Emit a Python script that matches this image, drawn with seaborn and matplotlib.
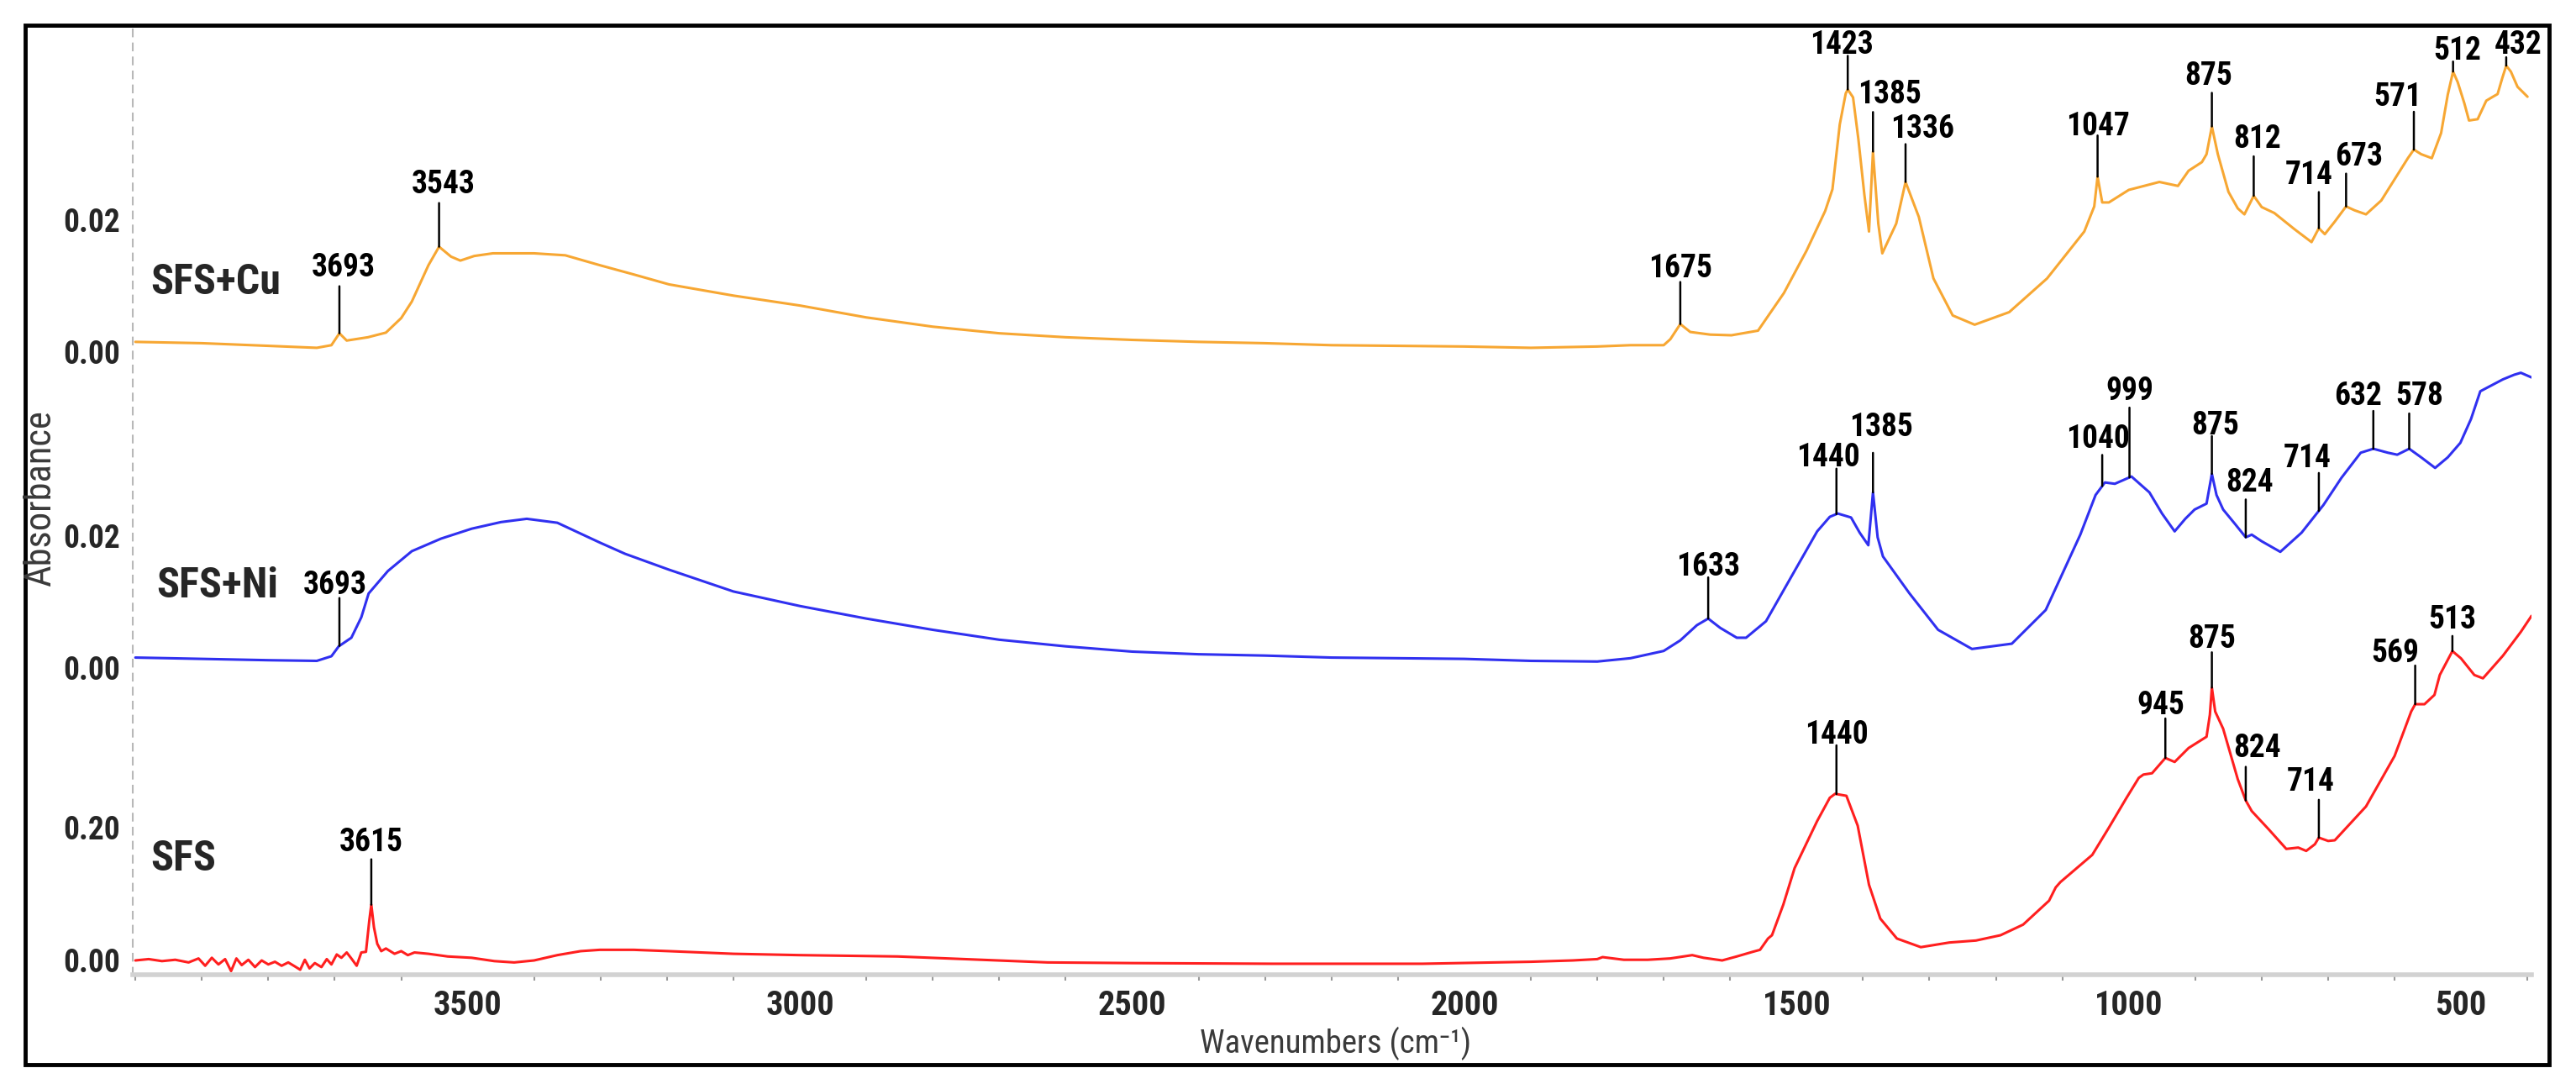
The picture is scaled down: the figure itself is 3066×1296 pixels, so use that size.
import numpy as np
import pandas as pd
import matplotlib
matplotlib.use("Agg")
import matplotlib.pyplot as plt
import seaborn as sns
from matplotlib import font_manager
from matplotlib.patches import Rectangle
from matplotlib.ticker import FixedLocator, MultipleLocator

# ---------------- data ----------------
cu_wn = [4000, 3900, 3800, 3727, 3705, 3693, 3682, 3650, 3623, 3600, 3584, 3559, 3543, 3525, 3511,
         3490, 3462, 3400, 3353, 3301, 3250, 3197, 3100, 3000, 2900, 2800, 2700, 2600, 2500, 2400,
         2300, 2200, 2100, 2000, 1900, 1800, 1750, 1700, 1690, 1675, 1660, 1630, 1598, 1558, 1519,
         1485, 1457, 1446, 1435, 1426, 1423, 1415, 1407, 1398, 1391, 1385, 1377, 1371, 1350, 1336,
         1316, 1294, 1265, 1232, 1180, 1123, 1067, 1052, 1047, 1040, 1030, 1000, 954, 926, 910, 890,
         883, 875, 866, 850, 836, 826, 812, 800, 781, 750, 725, 714, 705, 690, 673, 660, 643, 620,
         600, 580, 571, 560, 544, 530, 520, 512, 505, 495, 488, 475, 462, 452, 445, 438, 432, 425,
         415, 400]
cu_abs = [0.0015, 0.0013, 0.0009, 0.0006, 0.0010, 0.0028, 0.0017, 0.0022, 0.0029, 0.0051, 0.0076,
          0.0131, 0.0159, 0.0144, 0.0138, 0.0145, 0.0149, 0.0149, 0.0146, 0.0131, 0.0117, 0.0102,
          0.0085, 0.0070, 0.0052, 0.0038, 0.0028, 0.0022, 0.0018, 0.0015, 0.0013, 0.0010, 0.0009,
          0.0008, 0.0006, 0.0008, 0.0010, 0.0010, 0.0019, 0.0042, 0.0030, 0.0026, 0.0025, 0.0032,
          0.0089, 0.0153, 0.0213, 0.0246, 0.0344, 0.0391, 0.0397, 0.0385, 0.0322, 0.0238, 0.0182,
          0.0303, 0.0194, 0.0149, 0.0194, 0.0257, 0.0204, 0.0111, 0.0055, 0.0041, 0.0060, 0.0111,
          0.0182, 0.0220, 0.0265, 0.0226, 0.0226, 0.0245, 0.0257, 0.0251, 0.0274, 0.0287, 0.0299,
          0.0341, 0.0299, 0.0242, 0.0217, 0.0208, 0.0236, 0.0219, 0.0210, 0.0185, 0.0166, 0.0187,
          0.0178, 0.0197, 0.0220, 0.0214, 0.0208, 0.0229, 0.0261, 0.0293, 0.0306, 0.0299, 0.0293,
          0.0331, 0.0389, 0.0424, 0.0408, 0.0376, 0.0350, 0.0352, 0.0380, 0.0386, 0.0390, 0.0414,
          0.0433, 0.0424, 0.0401, 0.0386]

ni_wn = [4000, 3900, 3800, 3727, 3705, 3694, 3675, 3660, 3649, 3620, 3584, 3540, 3494, 3450, 3411,
         3365, 3301, 3263, 3197, 3100, 3000, 2900, 2800, 2700, 2600, 2500, 2400, 2300, 2200, 2100,
         2000, 1900, 1800, 1750, 1700, 1675, 1650, 1633, 1615, 1590, 1576, 1546, 1503, 1469, 1450,
         1438, 1418, 1405, 1392, 1385, 1378, 1370, 1330, 1287, 1236, 1176, 1125, 1073, 1050, 1036,
         1021, 996, 969, 950, 931, 915, 901, 883, 875, 868, 858, 840, 824, 815, 800, 772, 740, 707,
         680, 651, 632, 610, 596, 578, 560, 539, 520, 501, 485, 471, 437, 420, 410, 394]
ni_abs = [0.0015, 0.0013, 0.0011, 0.0010, 0.0017, 0.0032, 0.0045, 0.0076, 0.0112, 0.0146, 0.0176,
          0.0195, 0.0210, 0.0220, 0.0225, 0.0219, 0.0189, 0.0172, 0.0148, 0.0115, 0.0093, 0.0074,
          0.0057, 0.0042, 0.0032, 0.0024, 0.0020, 0.0018, 0.0015, 0.0014, 0.0013, 0.0010, 0.0009,
          0.0014, 0.0025, 0.0041, 0.0064, 0.0074, 0.0060, 0.0045, 0.0045, 0.0070, 0.0146, 0.0206,
          0.0228, 0.0233, 0.0227, 0.0204, 0.0185, 0.0265, 0.0197, 0.0168, 0.0112, 0.0057, 0.0028,
          0.0036, 0.0087, 0.0201, 0.0261, 0.0280, 0.0278, 0.0289, 0.0265, 0.0233, 0.0206, 0.0225,
          0.0239, 0.0248, 0.0293, 0.0261, 0.0239, 0.0217, 0.0197, 0.0201, 0.0191, 0.0175, 0.0204,
          0.0246, 0.0287, 0.0325, 0.0331, 0.0325, 0.0322, 0.0331, 0.0318, 0.0302, 0.0318, 0.0340,
          0.0376, 0.0418, 0.0436, 0.0443, 0.0446, 0.0439]

sfs_wn = [4000, 3980, 3960, 3940, 3920, 3905, 3895, 3885, 3875, 3865, 3856, 3848, 3840, 3830, 3820,
          3810, 3800, 3790, 3780, 3770, 3760, 3752, 3745, 3738, 3730, 3720, 3712, 3705, 3697, 3690,
          3682, 3675, 3667, 3660, 3653, 3648, 3645, 3641, 3636, 3630, 3623, 3610, 3600, 3590, 3580,
          3559, 3530, 3494, 3460, 3430, 3400, 3365, 3330, 3301, 3250, 3197, 3100, 3000, 2853, 2700,
          2627, 2500, 2289, 2063, 1900, 1837, 1800, 1792, 1760, 1724, 1690, 1657, 1640, 1612, 1590,
          1566, 1555, 1543, 1537, 1520, 1503, 1469, 1450, 1442, 1425, 1408, 1391, 1374, 1349, 1313,
          1270, 1230, 1193, 1159, 1120, 1110, 1103, 1055, 1030, 1004, 985, 978, 965, 945, 931, 910,
          883, 878, 875, 870, 858, 836, 824, 815, 789, 763, 745, 733, 720, 714, 700, 690, 643, 600,
          575, 569, 555, 540, 532, 513, 500, 480, 467, 437, 410, 394]
sfs_abs = [0.000, 0.002, -0.001, 0.001, -0.003, 0.003, -0.008, 0.004, -0.006, 0.002, -0.016, 0.003,
           -0.007, 0.001, -0.010, 0.000, -0.006, -0.002, -0.008, -0.003, -0.009, -0.014, 0.001,
           -0.012, -0.004, -0.010, 0.002, -0.006, 0.009, 0.004, 0.012, 0.003, -0.008, 0.012, 0.013,
           0.060, 0.084, 0.050, 0.025, 0.014, 0.018, 0.010, 0.014, 0.008, 0.012, 0.010, 0.006, 0.004,
           -0.001, -0.003, 0.000, 0.008, 0.014, 0.016, 0.016, 0.014, 0.010, 0.008, 0.006, 0.000,
           -0.003, -0.004, -0.005, -0.005, -0.002, 0.000, 0.002, 0.005, 0.001, 0.001, 0.003, 0.008,
           0.004, 0.000, 0.006, 0.013, 0.016, 0.033, 0.038, 0.084, 0.139, 0.210, 0.245, 0.251, 0.248,
           0.203, 0.114, 0.063, 0.033, 0.020, 0.027, 0.030, 0.038, 0.054, 0.090, 0.110, 0.118, 0.159,
           0.200, 0.244, 0.275, 0.280, 0.282, 0.305, 0.299, 0.320, 0.337, 0.370, 0.411, 0.375, 0.349,
           0.273, 0.241, 0.225, 0.197, 0.168, 0.170, 0.165, 0.175, 0.185, 0.180, 0.181, 0.232, 0.308,
           0.375, 0.386, 0.386, 0.400, 0.430, 0.466, 0.455, 0.430, 0.425, 0.459, 0.495, 0.519]

cu_peaks = [3693, 3543, 1675, 1423, 1385, 1336, 1047, 875, 812, 714, 673, 571, 512, 432]
cu_labels = [str(p) for p in cu_peaks]
ni_peaks = [3693, 1633, 1440, 1385, 1040, 999, 875, 824, 714, 632, 578]
ni_labels = [str(p) for p in ni_peaks]
sfs_peaks = [3645, 1440, 945, 875, 824, 714, 569, 513]
sfs_labels = ["3615", "1440", "945", "875", "824", "714", "569", "513"]

# label layout: (line length px, text centre above line top px, text x shift px)
cu_layout = [(56, 25, 5), (52, 25, 5), (50, 19, 0), (40, 15, -7), (47, 23, 20), (45, 21, 20),
             (49, 13, 0), (40, 22, -4), (47, 23, 4), (43, 23, -12), (39, 23, 15), (45, 20, -19),
             (12, 15, 5), (10, 17, 14)]
ni_layout = [(57, 18, -5), (49, 15, 0), (54, 16, -10), (47, 33, 10), (37, 21, -5), (83, 22, 0),
             (45, 15, 4), (45, 22, 5), (45, 20, -14), (45, 20, -18), (42, 23, 12)]
sfs_layout = [(54, 23, 0), (58, 15, 0), (47, 18, -5), (42, 18, 0), (40, 25, 14), (45, 24, -10),
              (46, 17, -24), (18, 22, 0)]

W, H = 3066, 1296

sns.set_theme(style="white")
names = {f.name for f in font_manager.fontManager.ttflist}
# the original uses a narrow sans; take the first condensed face that is installed
fam, k = "Liberation Sans", 0.88
for cand in ["Liberation Sans Narrow", "Roboto Condensed", "Arial Narrow"]:
    if cand in names:
        fam, k = cand, 1.0
        break
plt.rcParams["font.family"] = [fam, "DejaVu Sans"]
fs_peak, fs_ytick, fs_xtick = 27 * k, 27 * k, 29 * k
fs_name = 36 * (0.85 if k < 1 else 1.0)

fig = plt.figure(figsize=(W / 100, H / 100), dpi=100)
fig.patch.set_facecolor("white")

rect = [158 / W, 1 - 1160 / H, (3013 - 158) / W, (1160 - 33) / H]
ax_sfs = fig.add_axes(rect)
ax_ni = fig.add_axes(rect, sharex=ax_sfs)
ax_cu = fig.add_axes(rect, sharex=ax_sfs)


def mark_peaks(ax, wn, ab, peaks, labels, layout):
    xs = np.array(wn)[::-1]
    ys = np.array(ab)[::-1]
    for p, lab, (L, rise, dx) in zip(peaks, labels, layout):
        y = np.interp(p, xs, ys)
        ax.annotate("", xy=(p, y), xytext=(0, L), textcoords="offset pixels",
                    arrowprops=dict(arrowstyle="-", color="black", lw=1.8, shrinkA=0, shrinkB=0))
        ax.annotate(lab, xy=(p, y), xytext=(dx, L + rise - 13), textcoords="offset pixels",
                    ha="center", va="baseline", fontsize=fs_peak, fontweight="bold", color="black")


panels = [
    (ax_sfs, sfs_wn, sfs_abs, "#ff1f1f", (-0.02152, 1.40506), [0, 0.20], ["0.00", "0.20"],
     sfs_peaks, sfs_labels, sfs_layout),
    (ax_ni, ni_wn, ni_abs, "#3030f0", (-0.04650, 0.09682), [0, 0.02], ["0.00", "0.02"],
     ni_peaks, ni_labels, ni_layout),
    (ax_cu, cu_wn, cu_abs, "#f7a733", (-0.09427, 0.04904), [0, 0.02], ["0.00", "0.02"],
     cu_peaks, cu_labels, cu_layout),
]

for ax, wn, ab, col, ylim, yt, ytl, pk, pl, lay in panels:
    df = pd.DataFrame({"wn": wn, "abs": ab})
    sns.lineplot(data=df, x="wn", y="abs", ax=ax, color=col, lw=2.2, estimator=None, sort=False)
    ax.set_ylim(*ylim)
    ax.set_yticks(yt)
    ax.set_yticklabels(ytl)
    ax.set_xlabel("")
    ax.set_ylabel("")
    ax.tick_params(axis="y", length=4, width=1.5, color="#9a9a9a", pad=7, labelsize=fs_ytick)
    for t in ax.get_yticklabels():
        t.set_fontweight("bold")
    for s in ax.spines.values():
        s.set_visible(False)
    mark_peaks(ax, wn, ab, pk, pl, lay)
    if ax is not ax_sfs:
        ax.set_facecolor("none")
        ax.tick_params(axis="x", which="both", bottom=False, labelbottom=False)

ax_sfs.set_xlim(4004, 394)
ax_sfs.xaxis.set_major_locator(FixedLocator([3500, 3000, 2500, 2000, 1500, 1000, 500]))
ax_sfs.xaxis.set_minor_locator(MultipleLocator(100))
ax_sfs.tick_params(axis="x", which="major", length=6, width=2, color="#8a8a8a", pad=7,
                   labelsize=fs_xtick)
ax_sfs.tick_params(axis="x", which="minor", length=5, width=1.5, color="#9a9a9a", bottom=True)
for t in ax_sfs.get_xticklabels():
    t.set_fontweight("bold")
ax_sfs.spines["bottom"].set_visible(True)
ax_sfs.spines["bottom"].set_color("#d2d2d2")
ax_sfs.spines["bottom"].set_linewidth(4)
ax_sfs.spines["left"].set_visible(True)
ax_sfs.spines["left"].set_color("#b8b8b8")
ax_sfs.spines["left"].set_linewidth(1.5)
ax_sfs.spines["left"].set_linestyle((0, (4, 4)))

# sample names
fig.text(179 / W, 1 - 337 / H, "SFS+Cu", fontsize=fs_name, fontweight="bold", va="center")
fig.text(186 / W, 1 - 698 / H, "SFS+Ni", fontsize=fs_name, fontweight="bold", va="center")
fig.text(179 / W, 1 - 1023 / H, "SFS", fontsize=fs_name, fontweight="bold", va="center")

fig.text(1590 / W, 1 - 1242 / H, "Wavenumbers (cm\u207b\u00b9)", fontsize=26 * k + 2,
         color="#3a3a3a", ha="center", va="center")
fig.text(48 / W, 1 - 593 / H, "Absorbance", fontsize=30 * k + 2, color="#3a3a3a", rotation=90,
         ha="center", va="center")

fig.add_artist(Rectangle((30 / W, 1 - 1267 / H), 3004 / W, 1237 / H, transform=fig.transFigure,
                         fill=False, edgecolor="black", lw=3.5))

fig.savefig("out.png", dpi=100, facecolor="white")
